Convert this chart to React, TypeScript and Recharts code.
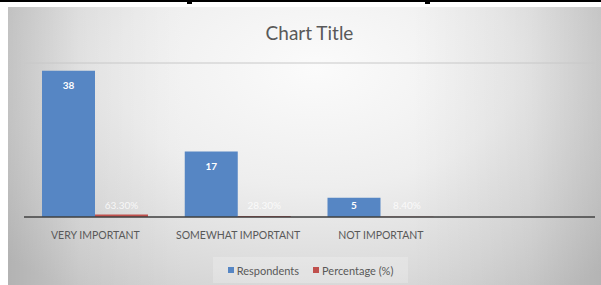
import React from 'react';
import { BarChart, Bar, XAxis, YAxis, CartesianGrid, LabelList } from 'recharts';

const categories = ['VERY IMPORTANT', 'SOMEWHAT IMPORTANT', 'NOT IMPORTANT', ''];
const respondents = [38, 17, 5, null];
const percentage = [0.633, 0.283, 0.084, null];
const yTicks = [0, 5, 10, 15, 20, 25, 30, 35, 40];

const BLUE = '#5686c4';
const RED = '#c0504d';
const FONT = 'Lato, "Open Sans", sans-serif';

const data = categories.map((name, i) => ({
  name,
  respondents: respondents[i],
  percentage: percentage[i],
}));

// label sits just inside the top of the bar, or above the baseline when the bar is tiny
const makeLabel = (bold: boolean, fmt: (v: number) => string, opacity: number) => (props: any) => {
  const { x, y, width, height, value } = props;
  if (value == null) return null;
  const cy = Math.min(y + 14, y + height - 12);
  return (
    <text
      x={x + width / 2}
      y={cy}
      textAnchor="middle"
      dominantBaseline="central"
      fill="#ffffff"
      fillOpacity={opacity}
      fontSize={10}
      fontWeight={bold ? 700 : 400}
      fontFamily={FONT}
    >
      {fmt(value)}
    </text>
  );
};

const App = () => {
  return (
    <div style={{ position: 'fixed', left: 0, top: 0, width: 601, height: 285, background: '#fff', overflow: 'hidden' }}>
      {/* black rule along the top edge of the screenshot */}
      <div style={{ position: 'absolute', left: 0, top: 0, width: 601, height: 2, background: '#000' }} />
      <div style={{ position: 'absolute', left: 187, top: 0, width: 5, height: 4, background: '#000' }} />
      <div style={{ position: 'absolute', left: 425, top: 0, width: 5, height: 4, background: '#000' }} />

      <div
        style={{
          position: 'absolute',
          left: 8,
          top: 7,
          width: 593,
          height: 278,
          background:
            'linear-gradient(90deg, rgba(0,0,0,0.13) 0%, rgba(0,0,0,0.04) 12%, rgba(0,0,0,0) 30%, rgba(0,0,0,0) 68%, rgba(0,0,0,0.05) 88%, rgba(0,0,0,0.12) 100%), radial-gradient(ellipse 75% 95% at 52% 22%, #fbfbfb 0%, #eeeeee 45%, #dadada 80%, #cdcdcd 100%)',
          fontFamily: FONT,
        }}
      >
        <div
          style={{
            position: 'absolute',
            left: 0,
            width: 603,
            top: 14,
            textAlign: 'center',
            fontSize: 19,
            color: '#595959',
            lineHeight: '24px',
          }}
        >
          Chart Title
        </div>

        <BarChart
          width={593}
          height={278}
          data={data}
          margin={{ top: 56, right: 6, left: 16, bottom: 38 }}
          barCategoryGap={18}
          barGap={0}
        >
          <CartesianGrid vertical={false} stroke="#c8c8c8" />
          <YAxis domain={[0, 40]} ticks={yTicks} width={0} tick={false} axisLine={false} tickLine={false} />
          <XAxis
            dataKey="name"
            height={30}
            interval={0}
            tickLine={false}
            tickMargin={9}
            axisLine={{ stroke: '#404040', strokeWidth: 1.5 }}
            tick={{ fill: '#595959', fontSize: 10.5, fontFamily: FONT }}
          />
          <Bar dataKey="respondents" fill={BLUE} isAnimationActive={false}>
            <LabelList dataKey="respondents" content={makeLabel(true, (v) => String(v), 1)} />
          </Bar>
          <Bar dataKey="percentage" fill={RED} isAnimationActive={false}>
            <LabelList dataKey="percentage" content={makeLabel(false, (v) => (v * 100).toFixed(2) + '%', 0.8)} />
          </Bar>
        </BarChart>

        <div
          style={{
            position: 'absolute',
            left: 205,
            top: 250,
            width: 195,
            height: 26,
            background: 'rgba(255,255,255,0.22)',
            display: 'flex',
            alignItems: 'center',
            justifyContent: 'center',
            gap: 14,
            fontSize: 11,
            color: '#595959',
          }}
        >
          <span style={{ display: 'flex', alignItems: 'center', gap: 3 }}>
            <span style={{ width: 6, height: 6, background: BLUE, display: 'inline-block' }} />
            Respondents
          </span>
          <span style={{ display: 'flex', alignItems: 'center', gap: 3 }}>
            <span style={{ width: 6, height: 6, background: RED, display: 'inline-block' }} />
            Percentage (%)
          </span>
        </div>
      </div>
    </div>
  );
};

export default App;
